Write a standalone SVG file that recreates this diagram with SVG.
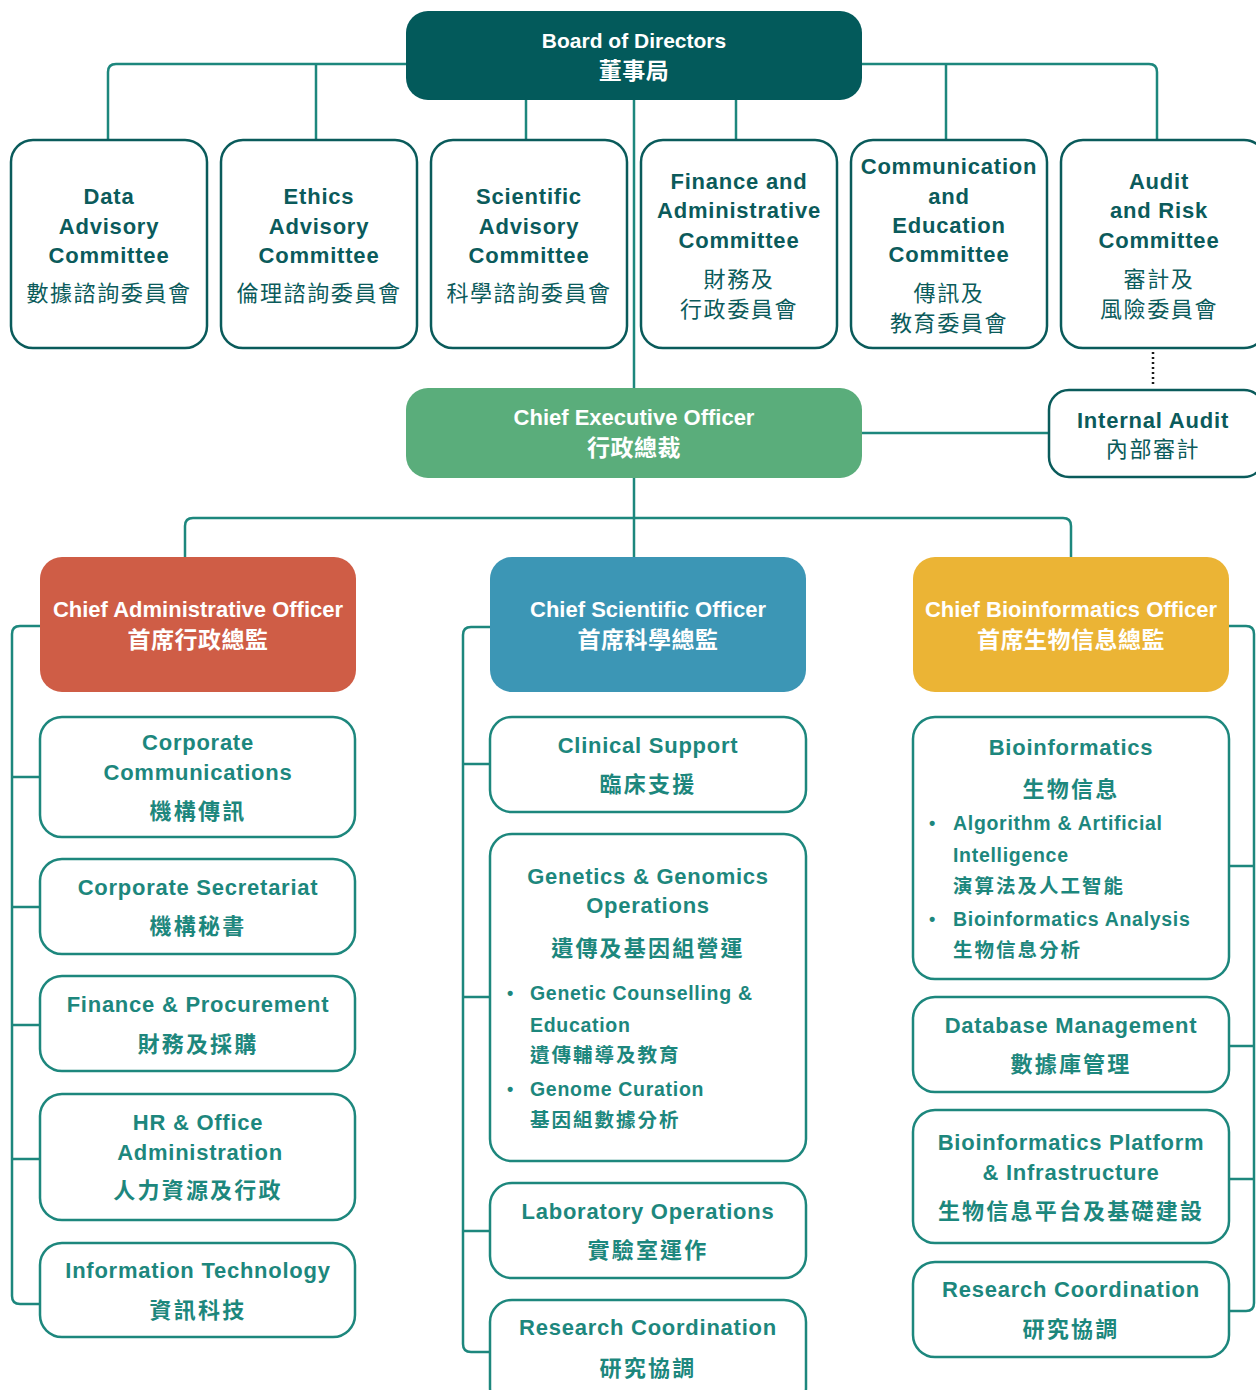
<svg xmlns="http://www.w3.org/2000/svg" width="1256" height="1390" viewBox="0 0 1256 1390">
<style>
text{font-family:"Liberation Sans","Noto Sans CJK TC",sans-serif;text-anchor:middle}
.conn{fill:none;stroke:#1d877d;stroke-width:2.5}
.dot{fill:none;stroke:#1a1a1a;stroke-width:2.5;stroke-dasharray:2 3}
.cm{fill:#fff;stroke:#0a5b5b;stroke-width:2.5}
.sub{fill:#fff;stroke:#1d877d;stroke-width:2.5}
.ce{font-size:22px;font-weight:bold;fill:#0b5b5b;letter-spacing:0.8px}
.cc{font-family:"Noto Sans CJK TC",sans-serif;font-size:22px;fill:#0b5b5b;letter-spacing:1.6px}
.we{font-size:22px;font-weight:bold;fill:#fff}
.wc{font-family:"Noto Sans CJK TC",sans-serif;font-size:23px;font-weight:bold;fill:#fff;letter-spacing:0.5px}
.se{font-size:22px;font-weight:bold;fill:#1d877d;letter-spacing:0.75px}
.sc{font-family:"Noto Sans CJK TC",sans-serif;font-size:22px;font-weight:bold;fill:#1d877d;letter-spacing:2.2px}
.be{font-size:19.5px;font-weight:bold;fill:#1d877d;letter-spacing:0.7px;text-anchor:start}
.bc{font-family:"Noto Sans CJK TC",sans-serif;font-size:19.5px;font-weight:bold;fill:#1d877d;letter-spacing:2px;text-anchor:start}
.bu{font-size:18px;font-weight:bold;fill:#1d877d;text-anchor:start}
</style>
<g id="connectors">
<path class="conn" d="M406,64 H116 Q108,64 108,72 V139"/>
<path class="conn" d="M316,64 V139"/>
<path class="conn" d="M526,100 V139"/>
<path class="conn" d="M736,100 V139"/>
<path class="conn" d="M862,64 H1149 Q1157,64 1157,72 V139"/>
<path class="conn" d="M946,64 V139"/>
<path class="conn" d="M634,100 V557"/>
<path class="conn" d="M862,433 H1048"/>
<path class="dot" d="M1153,352 V387"/>
<path class="conn" d="M185,557 V526 Q185,518 193,518 H1063 Q1071,518 1071,526 V557"/>
<path class="conn" d="M40,626 H20 Q12,626 12,634 V1296 Q12,1304 20,1304 H40"/>
<path class="conn" d="M12,777 H40 M12,907 H40 M12,1025 H40 M12,1159 H40"/>
<path class="conn" d="M490,627 H471 Q463,627 463,635 V1344 Q463,1352 471,1352 H490"/>
<path class="conn" d="M463,764 H490 M463,997 H490 M463,1231 H490"/>
<path class="conn" d="M1229,626 H1246 Q1254,626 1254,634 V1303 Q1254,1311 1246,1311 H1229"/>
<path class="conn" d="M1229,866 H1254 M1229,1046 H1254 M1229,1179 H1254"/>
</g>
<g id="board">
<rect x="406" y="11" width="456" height="89" rx="22" fill="#035a5b"/>
<text class="we" x="634" y="48" style="font-size:21px">Board of Directors</text>
<text class="wc" x="634" y="79">董事局</text>
</g>
<g id="data-advisory">
<rect class="cm" x="11" y="140" width="196" height="208" rx="22"/>
<text class="ce" x="109" y="204">Data</text>
<text class="ce" x="109" y="234">Advisory</text>
<text class="ce" x="109" y="263">Committee</text>
<text class="cc" x="109" y="301">數據諮詢委員會</text>
</g>
<g id="ethics-advisory">
<rect class="cm" x="221" y="140" width="196" height="208" rx="22"/>
<text class="ce" x="319" y="204">Ethics</text>
<text class="ce" x="319" y="234">Advisory</text>
<text class="ce" x="319" y="263">Committee</text>
<text class="cc" x="319" y="301">倫理諮詢委員會</text>
</g>
<g id="scientific-advisory">
<rect class="cm" x="431" y="140" width="196" height="208" rx="22"/>
<text class="ce" x="529" y="204">Scientific</text>
<text class="ce" x="529" y="234">Advisory</text>
<text class="ce" x="529" y="263">Committee</text>
<text class="cc" x="529" y="301">科學諮詢委員會</text>
</g>
<g id="finance-admin-committee">
<rect class="cm" x="641" y="140" width="196" height="208" rx="22"/>
<text class="ce" x="739" y="189">Finance and</text>
<text class="ce" x="739" y="218">Administrative</text>
<text class="ce" x="739" y="248">Committee</text>
<text class="cc" x="739" y="287">財務及</text>
<text class="cc" x="739" y="317">行政委員會</text>
</g>
<g id="comm-edu-committee">
<rect class="cm" x="851" y="140" width="196" height="208" rx="22"/>
<text class="ce" x="949" y="174">Communication</text>
<text class="ce" x="949" y="204">and</text>
<text class="ce" x="949" y="233">Education</text>
<text class="ce" x="949" y="262">Committee</text>
<text class="cc" x="949" y="301">傳訊及</text>
<text class="cc" x="949" y="331">教育委員會</text>
</g>
<g id="audit-risk-committee">
<rect class="cm" x="1061" y="140" width="205" height="208" rx="22"/>
<text class="ce" x="1159" y="189">Audit</text>
<text class="ce" x="1159" y="218">and Risk</text>
<text class="ce" x="1159" y="248">Committee</text>
<text class="cc" x="1159" y="287">審計及</text>
<text class="cc" x="1159" y="317">風險委員會</text>
</g>
<g id="ceo">
<rect x="406" y="388" width="456" height="90" rx="22" fill="#5aad7b"/>
<text class="we" x="634" y="425">Chief Executive Officer</text>
<text class="wc" x="634" y="456">行政總裁</text>
</g>
<g id="internal-audit">
<rect class="cm" x="1049" y="390" width="215" height="87" rx="20"/>
<text class="ce" x="1153" y="428">Internal Audit</text>
<text class="cc" x="1153" y="457">內部審計</text>
</g>
<g id="cao">
<rect x="40" y="557" width="316" height="135" rx="22" fill="#cf5d46"/>
<text class="we" x="198" y="617">Chief Administrative Officer</text>
<text class="wc" x="198" y="648">首席行政總監</text>
</g>
<g id="cso">
<rect x="490" y="557" width="316" height="135" rx="22" fill="#3c96b5"/>
<text class="we" x="648" y="617">Chief Scientific Officer</text>
<text class="wc" x="648" y="648">首席科學總監</text>
</g>
<g id="cbo">
<rect x="913" y="557" width="316" height="135" rx="22" fill="#ebb435"/>
<text class="we" x="1071" y="617">Chief Bioinformatics Officer</text>
<text class="wc" x="1071" y="648">首席生物信息總監</text>
</g>
<g id="corporate-communications">
<rect class="sub" x="40" y="717" width="315" height="120" rx="22"/>
<text class="se" x="198" y="750">Corporate</text>
<text class="se" x="198" y="780">Communications</text>
<text class="sc" x="198" y="819">機構傳訊</text>
</g>
<g id="corporate-secretariat">
<rect class="sub" x="40" y="859" width="315" height="95" rx="22"/>
<text class="se" x="198" y="895">Corporate Secretariat</text>
<text class="sc" x="198" y="934">機構秘書</text>
</g>
<g id="finance-procurement">
<rect class="sub" x="40" y="976" width="315" height="95" rx="22"/>
<text class="se" x="198" y="1012">Finance &amp; Procurement</text>
<text class="sc" x="198" y="1052">財務及採購</text>
</g>
<g id="hr-office-admin">
<rect class="sub" x="40" y="1094" width="315" height="126" rx="22"/>
<text class="se" x="198" y="1130">HR &amp; Office</text>
<text class="se" x="200" y="1160">Administration</text>
<text class="sc" x="198" y="1198">人力資源及行政</text>
</g>
<g id="information-technology">
<rect class="sub" x="40" y="1243" width="315" height="94" rx="22"/>
<text class="se" x="198" y="1278">Information Technology</text>
<text class="sc" x="198" y="1318">資訊科技</text>
</g>
<g id="clinical-support">
<rect class="sub" x="490" y="717" width="316" height="95" rx="22"/>
<text class="se" x="648" y="753">Clinical Support</text>
<text class="sc" x="648" y="792">臨床支援</text>
</g>
<g id="genetics-genomics">
<rect class="sub" x="490" y="834" width="316" height="327" rx="22"/>
<text class="se" x="648" y="884">Genetics &amp; Genomics</text>
<text class="se" x="648" y="913">Operations</text>
<text class="sc" x="648" y="956">遺傳及基因組營運</text>
<text class="bu" x="507" y="999">•</text>
<text class="be" x="530" y="1000">Genetic Counselling &amp;</text>
<text class="be" x="530" y="1032">Education</text>
<text class="bc" x="530" y="1062">遺傳輔導及教育</text>
<text class="bu" x="507" y="1095">•</text>
<text class="be" x="530" y="1096">Genome Curation</text>
<text class="bc" x="530" y="1127">基因組數據分析</text>
</g>
<g id="laboratory-operations">
<rect class="sub" x="490" y="1183" width="316" height="95" rx="22"/>
<text class="se" x="648" y="1219">Laboratory Operations</text>
<text class="sc" x="648" y="1258">實驗室運作</text>
</g>
<g id="research-coordination-cso">
<rect class="sub" x="490" y="1300" width="316" height="110" rx="22"/>
<text class="se" x="648" y="1335">Research Coordination</text>
<text class="sc" x="648" y="1376">研究協調</text>
</g>
<g id="bioinformatics">
<rect class="sub" x="913" y="717" width="316" height="262" rx="22"/>
<text class="se" x="1071" y="755">Bioinformatics</text>
<text class="sc" x="1071" y="797">生物信息</text>
<text class="bu" x="929" y="829">•</text>
<text class="be" x="953" y="830">Algorithm &amp; Artificial</text>
<text class="be" x="953" y="862">Intelligence</text>
<text class="bc" x="953" y="893">演算法及人工智能</text>
<text class="bu" x="929" y="925">•</text>
<text class="be" x="953" y="926">Bioinformatics Analysis</text>
<text class="bc" x="953" y="957">生物信息分析</text>
</g>
<g id="database-management">
<rect class="sub" x="913" y="997" width="316" height="95" rx="22"/>
<text class="se" x="1071" y="1033">Database Management</text>
<text class="sc" x="1071" y="1072">數據庫管理</text>
</g>
<g id="bioinformatics-platform">
<rect class="sub" x="913" y="1110" width="316" height="133" rx="22"/>
<text class="se" x="1071" y="1150">Bioinformatics Platform</text>
<text class="se" x="1071" y="1180">&amp; Infrastructure</text>
<text class="sc" x="1071" y="1219">生物信息平台及基礎建設</text>
</g>
<g id="research-coordination-cbo">
<rect class="sub" x="913" y="1262" width="316" height="95" rx="22"/>
<text class="se" x="1071" y="1297">Research Coordination</text>
<text class="sc" x="1071" y="1337">研究協調</text>
</g>
</svg>
